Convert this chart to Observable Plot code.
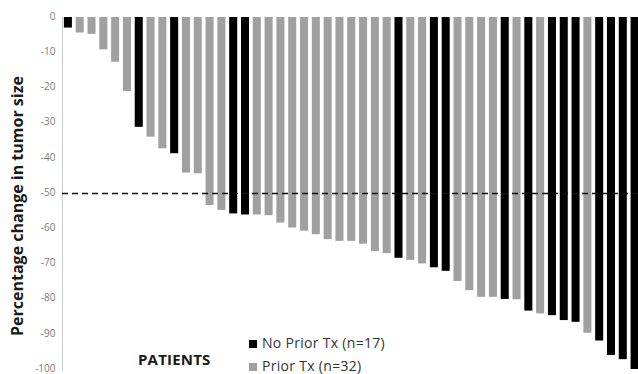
<!DOCTYPE html>
<html>
<head>
<meta charset="utf-8">
<script src="https://cdn.jsdelivr.net/npm/d3@7"></script>
<script src="https://cdn.jsdelivr.net/npm/@observablehq/plot@0.6"></script>
<style>
  html, body { margin: 0; padding: 0; background: #fff; }
  #wrap { position: relative; width: 638px; height: 374px; overflow: hidden; font-family: "Open Sans", sans-serif; }
  #wrap svg { position: absolute; left: 0; top: 0; }
  .ylabel { position: absolute; left: 17px; top: 206px; transform: translate(-50%, -50%) rotate(-90deg); white-space: nowrap; font-weight: bold; font-size: 16px; color: #1a1a1a; }
  .patients { position: absolute; left: 138px; top: 352px; font-weight: bold; font-size: 15px; letter-spacing: 0.2px; color: #1a1a1a; line-height: 1; }
  .legend { position: absolute; left: 249px; top: 331px; font-size: 14px; letter-spacing: 0.3px; color: #333; line-height: 23px; }
  .legend div { white-space: nowrap; }
  .legend span { display: inline-block; width: 8px; height: 8px; margin-right: 5px; vertical-align: 0px; }
</style>
</head>
<body>
<div id="wrap"></div>
<script>
const patients = d3.range(1, 50).map(String);
const change = [-3.0, -4.4, -4.8, -9.2, -12.7, -21.0, -31.2, -34.0, -37.3, -38.7, -44.2, -44.4,
  -53.4, -54.8, -55.8, -56.1, -56.1, -56.3, -58.4, -59.8, -60.7, -61.7, -63.1, -63.6, -63.6, -64.4,
  -66.5, -67.1, -68.4, -69.0, -70.0, -71.1, -72.1, -75.0, -77.6, -79.5, -79.5, -80.1, -80.2,
  -83.4, -84.2, -84.7, -86.1, -86.6, -89.7, -91.9, -96.0, -97.2, -100];
const noPriorPatients = [1, 7, 10, 15, 16, 29, 32, 33, 38, 40, 42, 43, 44, 46, 47, 48, 49];
const groups = ["No Prior Tx", "Prior Tx"];
const groupLabels = ["No Prior Tx (n=17)", "Prior Tx (n=32)"];
const groupColors = ["#000000", "#a0a0a0"];
const yTicks = [0, -10, -20, -30, -40, -50, -60, -70, -80, -90, -100];
const threshold = [-50];
const yLabel = "Percentage change in tumor size";
const xLabel = "PATIENTS";

const data = patients.map((p, i) => ({
  patient: p,
  change: change[i],
  group: noPriorPatients.includes(i + 1) ? groups[0] : groups[1]
}));

const chart = Plot.plot({
  width: 638,
  height: 374,
  marginTop: 17,
  marginBottom: 5,
  marginLeft: 62,
  marginRight: 0,
  style: { fontFamily: "Open Sans, sans-serif", background: "transparent" },
  x: { type: "band", domain: patients, range: [62, 640.5], paddingInner: 0.32, paddingOuter: 0.16, axis: null },
  y: { domain: [-100, 0], axis: null },
  color: { domain: groups, range: groupColors },
  marks: [
    Plot.axisY({ ticks: yTicks, tickSize: 0, tickPadding: 7, tickFormat: d => String(d), fontSize: 10, fill: "#7a7a7a", label: null, dy: -1 }),
    Plot.frame({ anchor: "left", stroke: "#c8c8c8" }),
    Plot.barY(data, { x: "patient", y: "change", fill: "group" }),
    Plot.ruleY(threshold, { stroke: "#111", strokeWidth: 1.5, strokeDasharray: "6,4" })
  ]
});
const wrap = document.getElementById("wrap");
wrap.appendChild(chart);

const yl = document.createElement("div");
yl.className = "ylabel"; yl.textContent = yLabel; wrap.appendChild(yl);
const xl = document.createElement("div");
xl.className = "patients"; xl.textContent = xLabel; wrap.appendChild(xl);
const lg = document.createElement("div");
lg.className = "legend";
groups.forEach((g, i) => {
  const row = document.createElement("div");
  const sw = document.createElement("span");
  sw.style.background = groupColors[i];
  row.appendChild(sw);
  row.appendChild(document.createTextNode(groupLabels[i]));
  lg.appendChild(row);
});
wrap.appendChild(lg);
</script>
</body>
</html>
